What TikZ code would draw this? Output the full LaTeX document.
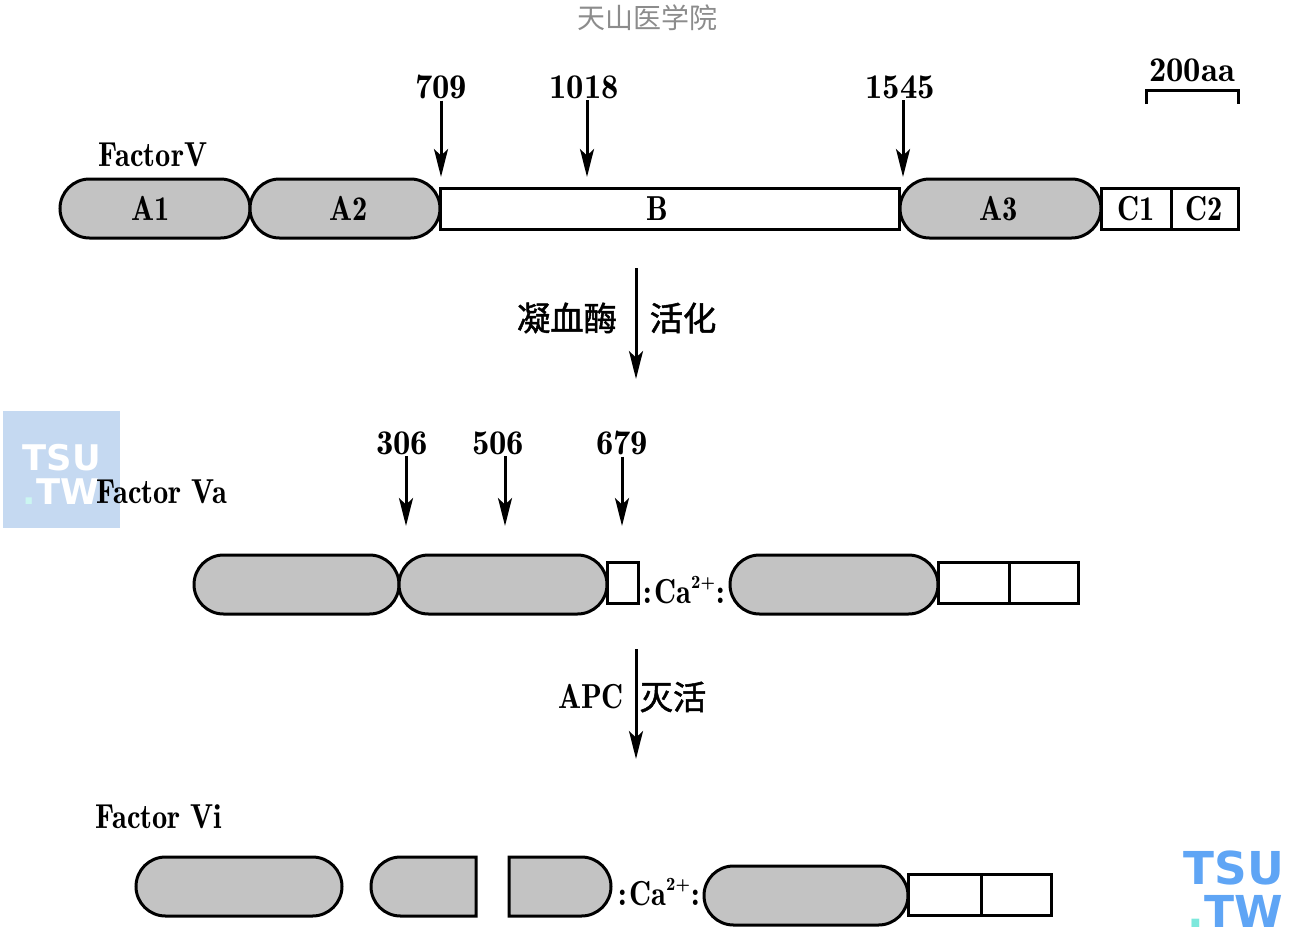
\documentclass[tikz,border=0pt]{standalone}
\usepackage{fontspec}
\setmainfont{Latin Modern Roman Demi}
\newfontfamily\namefont{Latin Modern Roman Demi}[FakeStretch=0.88]
\newfontfamily\cjk{Noto Sans CJK SC}[RawFeature={embolden=1.5}]
\newfontfamily\cjklight{Noto Sans CJK SC}
\newfontfamily\logofont{DejaVu Sans}
\usepackage{tikz}
\usetikzlibrary{shapes.misc,arrows.meta}
\definecolor{domain-gray}{RGB}{195,195,195}
\definecolor{logo-blue}{RGB}{95,165,245}
\definecolor{logo-pale}{RGB}{197,217,241}
\definecolor{logo-cyan}{RGB}{125,232,220}
\def\px{0.75pt}
\newcommand{\chargeup}{\raisebox{11pt}{\rmfamily\fontsize{14}{14}\selectfont 2+}}
\begin{document}
\begin{tikzpicture}[x=0.75pt, y=-0.75pt,
    dombox/.style={rounded rectangle, draw, fill=domain-gray, line width=3*\px, inner sep=0pt, outer sep=0pt, minimum height=59*\px, font=\namefont\fontsize{26}{30}\selectfont},
    linkbox/.style={rectangle, draw, fill=white, line width=3*\px, inner sep=0pt, outer sep=0pt, minimum height=41*\px, font=\namefont\fontsize{26}{30}\selectfont},
    txt/.style={inner sep=1pt, font=\fontsize{26}{30}\selectfont},
    nametxt/.style={inner sep=1pt, font=\namefont\fontsize{26}{30}\selectfont},
    cjktxt/.style={inner sep=1pt, font=\cjk\fontsize{25}{30}\selectfont},
    arrow/.style={-{Stealth[length=21pt, width=10.5pt, inset=5pt]}, line width=3*\px},
    logo/.style={inner sep=0pt, font=\logofont\bfseries}]
    \useasboundingbox (0,0) rectangle (1299,939);

    % Watermarks
    \node[font=\cjklight\fontsize{21}{24}\selectfont, text=black!45, inner sep=0pt] (school) at (647,18) {天山医学院};
    \node[fill=logo-pale, minimum size=117*\px, inner sep=0pt, outer sep=0pt] (logobox) at (61.5,469.5) {};
    \node[logo, text=white, font=\logofont\bfseries\fontsize{26.5}{30}\selectfont] (logoa) at (62,458) {TSU};
    \node[logo, text=white, font=\logofont\bfseries\fontsize{26.5}{30}\selectfont] (logob) at (61,492) {{\color{logo-cyan!40}.}TW};
    \node[logo, text=logo-blue, font=\logofont\bfseries\fontsize{34}{36}\selectfont] (logoc) at (1234,868) {TSU};
    \node[logo, text=logo-blue, font=\logofont\bfseries\fontsize{33}{36}\selectfont] (logod) at (1235,911) {{\color{logo-cyan}.}TW};

    % Factor V
    \node[nametxt] (factorv) at (153,155) {FactorV};
    \node[dombox, minimum width=190*\px] (a1) at (155,208.5) {\hspace*{-7pt}A1};
    \node[dombox, minimum width=190*\px] (a2) at (345,208.5) {\hspace*{6pt}A2};
    \node[linkbox, minimum width=459*\px] (b) at (669.5,209) {\hspace*{-18pt}B};
    \node[dombox, minimum width=201*\px] (a3) at (1000.5,208.5) {\hspace*{-3pt}A3};
    \node[linkbox, minimum width=70*\px] (c1) at (1136,209) {C1};
    \node[linkbox, minimum width=67*\px] (c2) at (1204.5,209) {C2};

    % Cleavage sites of Factor V
    \node[txt] (n709) at (441,87) {709};
    \node[txt] (n1018) at (584,87) {1018};
    \node[txt] (n1545) at (900,87) {1545};
    \coordinate (t709) at (441,177);
    \coordinate (t1018) at (587,177);
    \coordinate (t1545) at (903,177);
    \draw[arrow] (n709.south -| t709) -- (t709);
    \draw[arrow] (n1018.south -| t1018) -- (t1018);
    \draw[arrow] (n1545.south -| t1545) -- (t1545);

    % Scale bar
    \node[txt] (scale) at (1192,70) {200aa};
    \coordinate (sl) at (1146,104);
    \coordinate (sr) at (1238,104);
    \draw[line width=3*\px] (sl) -- ++(0,-14) -| (sr);

    % Activation
    \coordinate (acttop) at (636,268);
    \coordinate (actend) at (636,379);
    \draw[arrow] (acttop) -- (actend);
    \node[cjktxt] (thrombin) at (567,318) {凝血酶};
    \node[cjktxt] (activate) at (683,318) {活化};

    % Factor Va
    \node[nametxt] (factorva) at (162,492) {Factor Va};
    \node[txt] (n306) at (402,443) {306};
    \node[txt] (n506) at (498,443) {506};
    \node[txt] (n679) at (622,443) {679};
    \coordinate (t306) at (406,526);
    \coordinate (t506) at (505,526);
    \coordinate (t679) at (622,526);
    \draw[arrow] (n306.south -| t306) -- (t306);
    \draw[arrow] (n506.south -| t506) -- (t506);
    \draw[arrow] (n679.south -| t679) -- (t679);
    \node[dombox, minimum width=205*\px] (vaa1) at (296.5,584.5) {};
    \node[dombox, minimum width=208*\px] (vaa2) at (503,584.5) {};
    \node[linkbox, minimum width=31*\px] (vab) at (622.5,583) {};
    \node[nametxt] (vaca) at (684,590) {:\kern2pt Ca\chargeup\kern1pt:};
    \node[dombox, minimum width=208*\px] (vaa3) at (834,584.5) {};
    \node[linkbox, minimum width=71*\px] (vac1) at (973.5,583) {};
    \node[linkbox, minimum width=69*\px] (vac2) at (1043.5,583) {};

    % Inactivation
    \coordinate (inacttop) at (636,649);
    \coordinate (inactend) at (636,759);
    \draw[arrow] (inacttop) -- (inactend);
    \node[nametxt] (apc) at (591,697) {APC};
    \node[cjktxt] (inactivate) at (673,697) {灭活};

    % Factor Vi
    \node[nametxt] (factorvi) at (159,817) {Factor Vi};
    \node[dombox, minimum width=206*\px] (via1) at (239,886.5) {};
    \node[dombox, rounded rectangle east arc=none, minimum width=105*\px] (via2l) at (423.5,886.5) {};
    \node[dombox, rounded rectangle west arc=none, minimum width=102*\px] (via2r) at (560,886.5) {};
    \node[nametxt] (vica) at (659,892) {:\kern2pt Ca\chargeup\kern1pt:};
    \node[dombox, minimum width=204*\px] (via3) at (806,895.5) {};
    \node[linkbox, minimum width=73*\px] (vic1) at (944.5,894.5) {};
    \node[linkbox, minimum width=70*\px] (vic2) at (1016,894.5) {};
\end{tikzpicture}
\end{document}
